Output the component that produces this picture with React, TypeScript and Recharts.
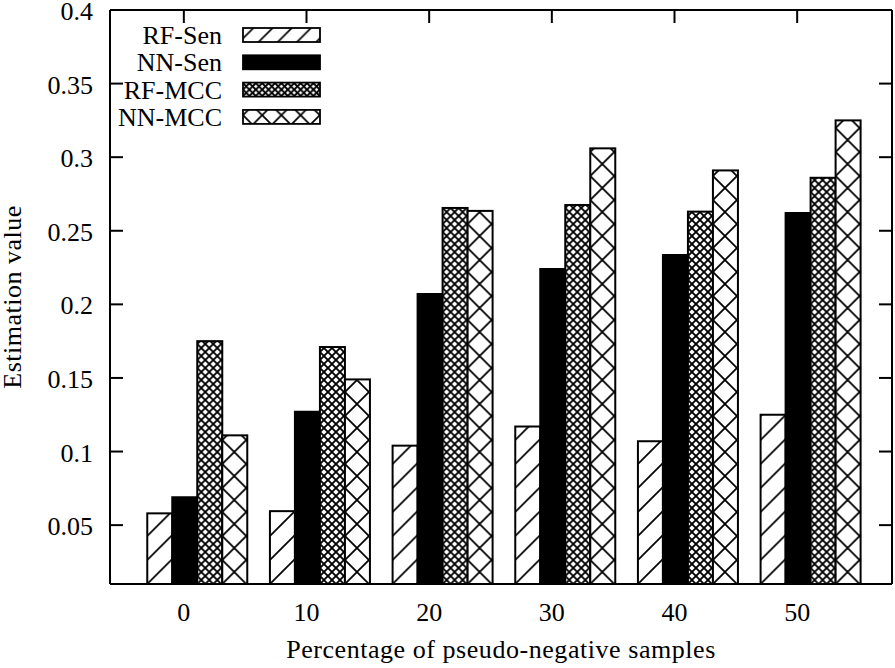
import React from 'react';
import { BarChart, Bar, XAxis, YAxis, Legend } from 'recharts';

const categories = ['0', '10', '20', '30', '40', '50'];
const rfSen = [0.058, 0.0595, 0.104, 0.117, 0.107, 0.125];
const nnSen = [0.069, 0.127, 0.207, 0.224, 0.2335, 0.262];
const rfMcc = [0.175, 0.171, 0.2655, 0.2675, 0.263, 0.286];
const nnMcc = [0.111, 0.149, 0.2635, 0.306, 0.291, 0.325];
const yTicks = [0.05, 0.1, 0.15, 0.2, 0.25, 0.3, 0.35, 0.4];
const seriesNames = ['RF-Sen', 'NN-Sen', 'RF-MCC', 'NN-MCC'];
const seriesKinds = ['slash', 'solid', 'dense', 'sparse'];

const data = categories.map((c, i) => ({
  cat: c,
  'RF-Sen': rfSen[i],
  'NN-Sen': nnSen[i],
  'RF-MCC': rfMcc[i],
  'NN-MCC': nnMcc[i],
}));

const FONT = '"Liberation Serif", "Times New Roman", Times, serif';
const FS = 26;
const TICK_OFFSET = -12.5;

function PatternDef({ id, kind, x, y, scale }: any) {
  if (kind === 'slash') {
    const p = 24 * scale;
    return (
      <pattern id={id} patternUnits="userSpaceOnUse" x={x} y={y} width={p} height={p}>
        <rect x={0} y={0} width={p} height={p} fill="#fff" />
        <path d={`M0,${p} L${p},0 M-4,4 L4,-4 M${p - 4},${p + 4} L${p + 4},${p - 4}`} stroke="#000" strokeWidth={1.7} />
      </pattern>
    );
  }
  const p = (kind === 'dense' ? 8 : 24) * scale;
  return (
    <pattern id={id} patternUnits="userSpaceOnUse" x={x} y={y} width={p} height={p}>
      <rect x={0} y={0} width={p} height={p} fill="#fff" />
      <path d={`M-1,-1 L${p + 1},${p + 1} M${p + 1},-1 L-1,${p + 1}`} stroke="#000" strokeWidth={kind === 'dense' ? 1.9 : 1.8} />
    </pattern>
  );
}

const makeShape = (kind: string) => (props: any) => {
  const { x, y, width, height, index } = props;
  if (!(height > 0)) return <g />;
  const id = `bar-${kind}-${index}`;
  return (
    <g>
      <defs>
        <PatternDef id={id} kind={kind} x={x} y={y + height} scale={1} />
      </defs>
      <rect x={x} y={y} width={width} height={height} fill={`url(#${id})`} stroke="#000" strokeWidth={2} />
    </g>
  );
};

const BottomTick = (props: any) => {
  const { x, y, payload } = props;
  const tx = x + TICK_OFFSET;
  return (
    <g>
      <line x1={tx} y1={y} x2={tx} y2={y - 13} stroke="#000" strokeWidth={2} />
      <text x={tx} y={y + 37} textAnchor="middle" fontFamily={FONT} fontSize={FS} fill="#000">
        {payload.value}
      </text>
    </g>
  );
};

const TopTick = (props: any) => {
  const { x, y } = props;
  const tx = x + TICK_OFFSET;
  return <line x1={tx} y1={y} x2={tx} y2={y + 13} stroke="#000" strokeWidth={2} />;
};

const LeftTick = (props: any) => {
  const { x, y, payload } = props;
  return (
    <g>
      <line x1={x} y1={y} x2={x + 13} y2={y} stroke="#000" strokeWidth={2} />
      <text x={x - 17} y={y + 10} textAnchor="end" fontFamily={FONT} fontSize={FS} fill="#000">
        {String(payload.value)}
      </text>
    </g>
  );
};

const RightTick = (props: any) => {
  const { x, y } = props;
  return <line x1={x} y1={y} x2={x - 13} y2={y} stroke="#000" strokeWidth={2} />;
};

const YTitle = (props: any) => {
  const vb = props.viewBox || { x: 0, y: 10, width: 110, height: 574 };
  const cx = vb.x + 21;
  const cy = vb.y + vb.height / 2;
  return (
    <text x={cx} y={cy} transform={`rotate(-90, ${cx}, ${cy})`} textAnchor="middle" fontFamily={FONT} fontSize={FS} letterSpacing={0.5} fill="#000">
      Estimation value
    </text>
  );
};

const XTitle = (props: any) => {
  const vb = props.viewBox || { x: 110, y: 584, width: 782, height: 84 };
  return (
    <text x={vb.x + vb.width / 2} y={vb.y + 74} textAnchor="middle" fontFamily={FONT} fontSize={FS} letterSpacing={0.55} fill="#000">
      Percentage of pseudo-negative samples
    </text>
  );
};

const LegendContent = () => (
  <svg width={340} height={135} style={{ display: 'block' }}>
    <defs>
      {seriesKinds.map((k) =>
        k === 'solid' ? null : <PatternDef key={k} id={`leg-${k}`} kind={k} x={243} y={0} scale={0.8} />
      )}
    </defs>
    {seriesNames.map((name, i) => {
      const top = 28 + i * 27.3;
      const kind = seriesKinds[i];
      return (
        <g key={name}>
          <text x={222} y={top + 16} textAnchor="end" fontFamily={FONT} fontSize={FS} fill="#000">
            {name}
          </text>
          <rect
            x={243}
            y={top}
            width={77}
            height={14}
            fill={kind === 'solid' ? '#000' : `url(#leg-${kind})`}
            stroke="#000"
            strokeWidth={1.8}
          />
        </g>
      );
    })}
  </svg>
);

export default function App() {
  return (
    <div style={{ position: 'absolute', left: 0, top: 0, width: 895, height: 668, background: '#fff' }}>
      <BarChart
        width={895}
        height={668}
        data={data}
        margin={{ top: 9, right: 2, left: 0, bottom: 0 }}
        barCategoryGap="10%"
        barGap={0}
      >
        <XAxis
          dataKey="cat"
          height={84}
          interval={0}
          padding={{ left: 25, right: 21 }}
          tickSize={0}
          tickMargin={0}
          tickLine={false}
          axisLine={{ stroke: '#000', strokeWidth: 2 }}
          tick={<BottomTick />}
          label={<XTitle />}
        />
        <XAxis
          xAxisId="top"
          orientation="top"
          dataKey="cat"
          height={1}
          interval={0}
          padding={{ left: 25, right: 21 }}
          tickSize={0}
          tickMargin={0}
          tickLine={false}
          axisLine={{ stroke: '#000', strokeWidth: 2 }}
          tick={<TopTick />}
        />
        <YAxis
          width={110}
          domain={[0.01, 0.4]}
          ticks={yTicks}
          allowDataOverflow
          interval={0}
          tickSize={0}
          tickMargin={0}
          tickLine={false}
          axisLine={{ stroke: '#000', strokeWidth: 2 }}
          tick={<LeftTick />}
          label={<YTitle />}
        />
        <YAxis
          yAxisId="right"
          orientation="right"
          width={1}
          domain={[0.01, 0.4]}
          ticks={yTicks}
          allowDataOverflow
          interval={0}
          tickSize={0}
          tickMargin={0}
          tickLine={false}
          axisLine={{ stroke: '#000', strokeWidth: 2 }}
          tick={<RightTick />}
        />
        <Legend
          layout="vertical"
          align="center"
          verticalAlign="middle"
          wrapperStyle={{ left: 0, top: 0, width: 340, height: 135 }}
          content={<LegendContent />}
        />
        <Bar dataKey="RF-Sen" isAnimationActive={false} shape={makeShape('slash')} />
        <Bar dataKey="NN-Sen" isAnimationActive={false} fill="#000" stroke="#000" strokeWidth={2} />
        <Bar dataKey="RF-MCC" isAnimationActive={false} shape={makeShape('dense')} />
        <Bar dataKey="NN-MCC" isAnimationActive={false} shape={makeShape('sparse')} />
      </BarChart>
    </div>
  );
}
